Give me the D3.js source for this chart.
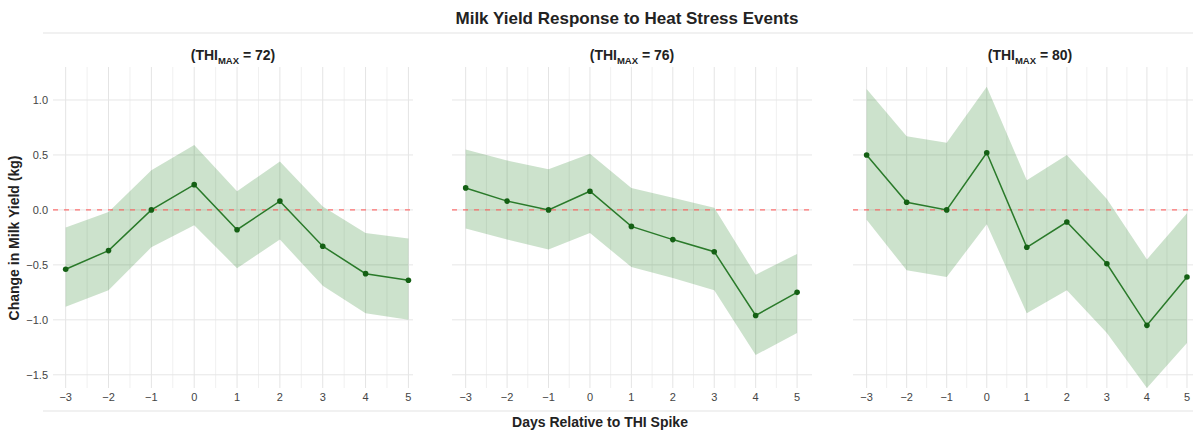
<!DOCTYPE html>
<html>
<head>
<meta charset="utf-8">
<script src="https://cdn.jsdelivr.net/npm/d3@7"></script>
<style>
  html, body { margin: 0; padding: 0; background: #fff; }
  svg { display: block; font-family: "Liberation Sans", Arial, sans-serif; }
</style>
</head>
<body>
<svg id="chart" width="1193" height="433"></svg>
<script>
// Days around the THI spike
const days = [-3, -2, -1, 0, 1, 2, 3, 4, 5];

// Facet labels (THI max threshold)
const thiLevels = ["72", "76", "80"];

// Mean change in milk yield (kg) per facet
const mean72 = [-0.54, -0.37, 0.0, 0.23, -0.18, 0.08, -0.33, -0.58, -0.64];
const mean76 = [0.20, 0.08, 0.0, 0.17, -0.15, -0.27, -0.38, -0.96, -0.75];
const mean80 = [0.50, 0.07, 0.0, 0.52, -0.34, -0.11, -0.49, -1.05, -0.61];

// Upper confidence bound
const upper72 = [-0.16, -0.02, 0.36, 0.59, 0.17, 0.44, 0.03, -0.21, -0.26];
const upper76 = [0.55, 0.45, 0.37, 0.51, 0.20, 0.11, 0.02, -0.59, -0.40];
const upper80 = [1.10, 0.67, 0.61, 1.12, 0.27, 0.50, 0.10, -0.45, -0.03];

// Lower confidence bound
const lower72 = [-0.88, -0.73, -0.34, -0.14, -0.53, -0.27, -0.69, -0.94, -1.00];
const lower76 = [-0.17, -0.27, -0.36, -0.21, -0.52, -0.62, -0.73, -1.32, -1.12];
const lower80 = [-0.09, -0.55, -0.61, -0.13, -0.94, -0.73, -1.12, -1.62, -1.21];

// Axis ticks
const yTicks = [-1.5, -1.0, -0.5, 0.0, 0.5, 1.0];
const xTicks = days;

const means = [mean72, mean76, mean80];
const uppers = [upper72, upper76, upper80];
const lowers = [lower72, lower76, lower80];

// Panel geometry (pixel extents and x domains)
const panelLeft = [53, 452, 853];
const panelRight = [413, 812, 1207];
const xDomains = [[-3.296, 5.107], [-3.33, 5.36], [-3.34, 5.5]];
const plotTop = 67, plotBottom = 388;

const svg = d3.select("#chart");
const minus = s => s.replace("-", "\u2212");

// faint frame bands above and below the panels
svg.append("line").attr("x1", 43).attr("x2", 1193).attr("y1", 33).attr("y2", 33)
  .attr("stroke", "#f1f1f1").attr("stroke-width", 2);
svg.append("line").attr("x1", 43).attr("x2", 1193).attr("y1", 411).attr("y2", 411)
  .attr("stroke", "#f1f1f1").attr("stroke-width", 2);

const y = d3.scaleLinear().domain([-1.62, 1.30]).range([plotBottom, plotTop]);

thiLevels.forEach((lvl, i) => {
  const x = d3.scaleLinear().domain(xDomains[i]).range([panelLeft[i], panelRight[i]]);
  const g = svg.append("g");

  // minor vertical grid (half days)
  const halfTicks = d3.range(Math.ceil(xDomains[i][0] * 2) / 2, xDomains[i][1], 0.5)
    .filter(v => !Number.isInteger(v));
  g.selectAll(".vminor").data(halfTicks).join("line")
    .attr("x1", d => x(d)).attr("x2", d => x(d))
    .attr("y1", plotTop).attr("y2", plotBottom)
    .attr("stroke", "#f0f0f0").attr("stroke-width", 1);

  // major vertical grid
  g.selectAll(".vmajor").data(xTicks).join("line")
    .attr("x1", d => x(d)).attr("x2", d => x(d))
    .attr("y1", plotTop).attr("y2", plotBottom)
    .attr("stroke", "#e4e4e4").attr("stroke-width", 1);

  // horizontal grid
  g.selectAll(".hgrid").data(yTicks).join("line")
    .attr("x1", panelLeft[i]).attr("x2", panelRight[i])
    .attr("y1", d => y(d)).attr("y2", d => y(d))
    .attr("stroke", "#e6e6e6").attr("stroke-width", 1);

  // confidence band
  const rows = days.map((d, k) => ({ d, m: means[i][k], lo: lowers[i][k], hi: uppers[i][k] }));
  g.append("path").datum(rows)
    .attr("d", d3.area().x(r => x(r.d)).y0(r => y(r.lo)).y1(r => y(r.hi)))
    .attr("fill", "rgb(0,110,0)").attr("fill-opacity", 0.2);

  // zero reference
  g.append("line")
    .attr("x1", panelLeft[i]).attr("x2", panelRight[i])
    .attr("y1", y(0)).attr("y2", y(0))
    .attr("stroke", "#ff5c5c").attr("stroke-width", 1.4)
    .attr("stroke-dasharray", "5,6").attr("stroke-opacity", 0.85);

  // mean line and markers
  g.append("path").datum(rows)
    .attr("d", d3.line().x(r => x(r.d)).y(r => y(r.m)))
    .attr("fill", "none").attr("stroke", "#2a7a2a").attr("stroke-width", 1.5);
  g.selectAll(".pt").data(rows).join("circle")
    .attr("cx", r => x(r.d)).attr("cy", r => y(r.m)).attr("r", 2.8)
    .attr("fill", "#146014");

  // x tick labels
  g.selectAll(".xt").data(xTicks).join("text")
    .attr("x", d => x(d)).attr("y", 401)
    .attr("text-anchor", "middle").attr("font-size", 11).attr("fill", "#444")
    .text(d => minus(String(d)));

  // facet title
  const t = g.append("text")
    .attr("x", (panelLeft[i] + panelRight[i]) / 2).attr("y", 60)
    .attr("text-anchor", "middle").attr("font-size", 14)
    .attr("font-weight", "bold").attr("fill", "#222");
  t.append("tspan").text("(THI");
  t.append("tspan").attr("font-size", 9.5).attr("dy", 4).text("MAX");
  t.append("tspan").attr("dy", -4).text(" = " + lvl + ")");

  // y tick labels on the first panel only
  if (i === 0) {
    g.selectAll(".yt").data(yTicks).join("text")
      .attr("x", 48).attr("y", d => y(d) + 4)
      .attr("text-anchor", "end").attr("font-size", 11).attr("fill", "#444")
      .text(d => minus(d.toFixed(1)));
  }
});

// figure title
svg.append("text").attr("x", 627).attr("y", 24)
  .attr("text-anchor", "middle").attr("font-size", 17).attr("font-weight", "bold")
  .attr("fill", "#222").text("Milk Yield Response to Heat Stress Events");

// axis titles
svg.append("text").attr("x", 600).attr("y", 427)
  .attr("text-anchor", "middle").attr("font-size", 14).attr("font-weight", "bold")
  .attr("fill", "#222").text("Days Relative to THI Spike");

svg.append("text").attr("transform", "translate(19,238) rotate(-90)")
  .attr("text-anchor", "middle").attr("font-size", 14).attr("font-weight", "bold")
  .attr("fill", "#222").text("Change in Milk Yield (kg)");
</script>
</body>
</html>
